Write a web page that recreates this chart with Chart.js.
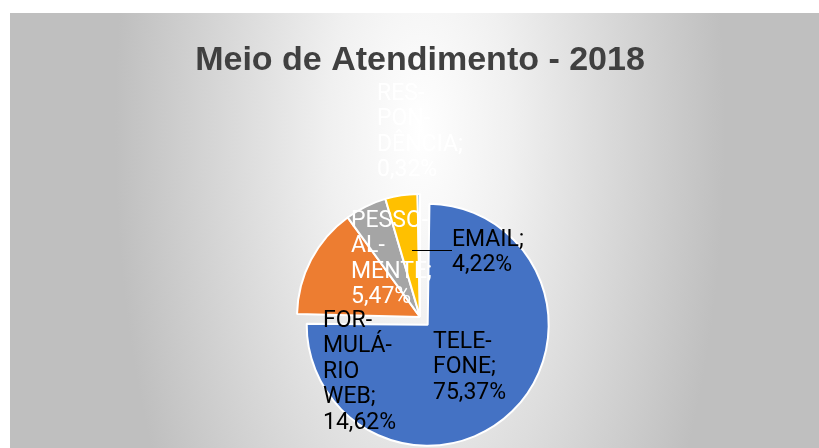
<!DOCTYPE html>
<html>
<head>
<meta charset="utf-8">
<script src="https://cdn.jsdelivr.net/npm/chart.js@4"></script>
<style>
  html, body { margin: 0; padding: 0; background: #fff; }
  #myChart { display: block; }
</style>
</head>
<body>
<canvas id="myChart" width="819" height="448"></canvas>
<script>
// data
var categories = ['TELEFONE', 'FORMULÁRIO WEB', 'PESSOALMENTE', 'EMAIL', 'RESPONDÊNCIA'];
var values = [75.37, 14.62, 5.47, 4.22, 0.32];
// hyphenated label lines as Excel wraps them
var labelLines = [
	['TELE-', 'FONE;'],
	['FOR-', 'MULÁ-', 'RIO', 'WEB;'],
	['PESSO-', 'AL-', 'MENTE;'],
	['EMAIL;'],
	['RES-', 'PON-', 'DÊNCIA;']
];
var sliceColors = ['#4472C4', '#ED7D31', '#A5A5A5', '#FFC000', '#5B9BD5'];
var labelColors = ['#000000', '#000000', '#ffffff', '#000000', '#ffffff'];
// label anchor relative to pie centre (left x, first baseline)
var labelOffsets = [[13, 31], [-97, 10], [-69, -90], [32, -71], [-43, -217]];

var pieRadius = 123;
var explode = 11; // px the TELEFONE slice is pulled out

function pct(v) {
	return v.toFixed(2).replace('.', ',') + '%';
}

//background panel with the soft white gradient
var panelBg = {
	id: 'panelBg',
	beforeDraw: function(chart) {
		var ctx = chart.ctx;
		ctx.save();
		ctx.fillStyle = '#ffffff';
		ctx.fillRect(0, 0, chart.width, chart.height);
		ctx.beginPath();
		ctx.rect(10, 13, chart.width - 10, chart.height - 13);
		ctx.clip();
		ctx.fillStyle = '#BFBFBF';
		ctx.fillRect(0, 0, chart.width, chart.height);
		ctx.translate(420, 130);
		ctx.scale(1, 2.2);
		var g = ctx.createRadialGradient(0, 0, 0, 0, 0, 305);
		g.addColorStop(0, '#ffffff');
		g.addColorStop(0.3, '#F0F0F0');
		g.addColorStop(1, '#BFBFBF');
		ctx.fillStyle = g;
		ctx.fillRect(-420, -130, chart.width, chart.height);
		ctx.restore();
	}
};

//chart.js grows big exploded arcs by the offset too, so shrink it back
var explodeFix = {
	id: 'explodeFix',
	afterDatasetUpdate: function(chart) {
		var arc = chart.getDatasetMeta(0).data[0];
		arc.outerRadius = pieRadius - explode - 2;
	}
};

//data labels drawn next to the slices
var sliceLabels = {
	id: 'sliceLabels',
	afterDatasetsDraw: function(chart) {
		var ctx = chart.ctx;
		var arcs = chart.getDatasetMeta(0).data;
		var lh = 25.5;
		ctx.save();
		ctx.font = '23px Roboto';
		ctx.textAlign = 'left';
		ctx.textBaseline = 'alphabetic';
		arcs.forEach(function(arc, i) {
			var x = arc.x + labelOffsets[i][0];
			var y = arc.y + labelOffsets[i][1];
			var lines = labelLines[i].concat([pct(values[i])]);
			ctx.fillStyle = labelColors[i];
			lines.forEach(function(t, k) {
				ctx.fillText(t, x, y + k * lh);
			});
			// leader line for EMAIL
			if (i === 3) {
				ctx.strokeStyle = '#000000';
				ctx.lineWidth = 1;
				ctx.beginPath();
				ctx.moveTo(arc.x - 8, Math.round(y + 4) + 0.5);
				ctx.lineTo(x, Math.round(y + 4) + 0.5);
				ctx.stroke();
			}
		});
		ctx.restore();
	}
};

var ctx = document.getElementById('myChart').getContext('2d');
var pieChart = new Chart(ctx, {
	type: 'pie',
	data: {
		labels: categories,
		datasets: [{
			data: values,
			backgroundColor: sliceColors,
			borderColor: '#ffffff',
			borderWidth: 2,
			offset: [explode * 4, 0, 0, 0, 0]
		}]
	},
	options: {
		responsive: false,
		animation: false,
		events: [],
		radius: pieRadius,
		layout: {
			padding: { left: 21, right: 0, top: 0, bottom: 0 }
		},
		plugins: {
			legend: { display: false },
			tooltip: { enabled: false },
			title: {
				display: true,
				text: 'Meio de Atendimento - 2018',
				color: '#404040',
				font: { family: 'Liberation Sans', size: 34, weight: 'bold', lineHeight: 1.2 },
				padding: { top: 40, bottom: 105 }
			}
		}
	},
	plugins: [panelBg, explodeFix, sliceLabels]
});
</script>
</body>
</html>
